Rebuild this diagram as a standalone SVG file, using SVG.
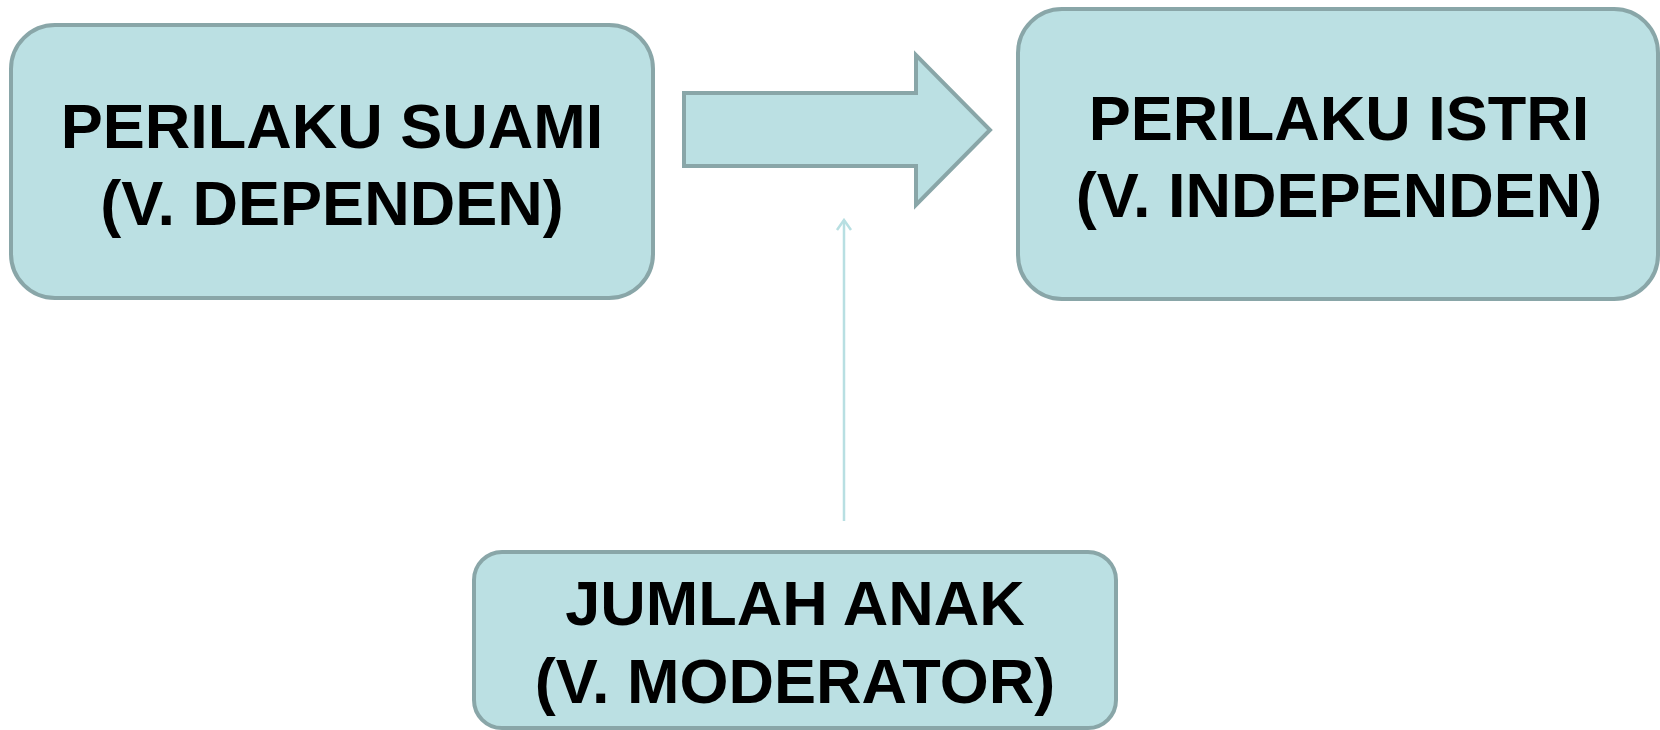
<svg xmlns="http://www.w3.org/2000/svg" width="1660" height="730" viewBox="0 0 1660 730">
  <defs>
    <style>
      .box { fill: #bbe0e3; stroke: #89a6a8; stroke-width: 4; }
      .label { font-family: "Liberation Sans", Arial, sans-serif; font-weight: bold; font-size: 63px; fill: #000; text-anchor: middle; }
      .link { fill: none; stroke: #b8dfe2; stroke-width: 2.5; }
    </style>
    <marker id="openHead" viewBox="0 0 14 18" refX="12" refY="9" markerWidth="14" markerHeight="18" markerUnits="userSpaceOnUse" orient="auto">
      <path d="M2,2 L12,9 L2,16" fill="none" stroke="#b8dfe2" stroke-width="2.5"/>
    </marker>
  </defs>

  <!-- connectors -->
  <g id="connectors">
    <polygon class="box" points="684,93 916,93 916,55 990,130 916,205 916,166 684,166"/>
    <line class="link" x1="844" y1="521" x2="844" y2="220" marker-end="url(#openHead)"/>
  </g>

  <g id="node-suami">
    <rect class="box" x="11" y="25" width="642" height="273" rx="44" ry="44"/>
    <text class="label" x="332" y="148">PERILAKU SUAMI</text>
    <text class="label" x="332" y="225">(V. DEPENDEN)</text>
  </g>

  <g id="node-istri">
    <rect class="box" x="1018" y="9" width="640" height="290" rx="44" ry="44"/>
    <text class="label" x="1339" y="140">PERILAKU ISTRI</text>
    <text class="label" x="1339" y="217">(V. INDEPENDEN)</text>
  </g>

  <g id="node-anak">
    <rect class="box" x="474" y="552" width="642" height="176" rx="28" ry="28"/>
    <text class="label" x="795" y="625">JUMLAH ANAK</text>
    <text class="label" x="795" y="703">(V. MODERATOR)</text>
  </g>
</svg>
